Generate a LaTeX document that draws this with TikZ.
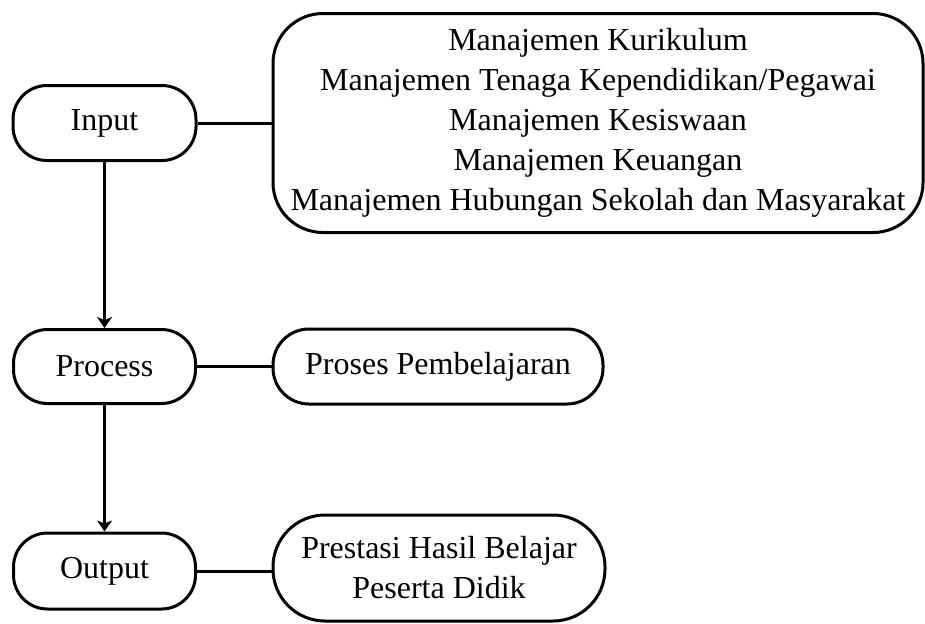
\documentclass[tikz,border=0pt]{standalone}
\usepackage{fontspec}
\setmainfont{Liberation Serif}
\usetikzlibrary{arrows.meta}
\begin{document}
\begin{tikzpicture}[x=0.5pt,y=-0.5pt,
  box/.style={draw, line width=1.5pt, rounded corners=#1, align=center, inner sep=0pt,
    font=\fontsize{16pt}{20pt}\selectfont},
  link/.style={line width=1.5pt},
  arr/.style={line width=1.5pt,-{Stealth[length=5.5pt,width=7.5pt,inset=1.5pt]}}]
\useasboundingbox (0,0) rectangle (925,623);
\node[box=17pt, minimum width=91.5pt, minimum height=37.5pt] (input) at (104.5,123) {Input};
\node[box=25pt, minimum width=325pt, minimum height=109.5pt] (big) at (598,123)
  {Manajemen Kurikulum\\Manajemen Tenaga Kependidikan/Pegawai\\Manajemen Kesiswaan\\Manajemen Keuangan\\Manajemen Hubungan Sekolah dan Masyarakat};
\node[box=17pt, minimum width=91pt, minimum height=37pt] (process) at (104.5,366.5) {Process};
\node[box=18pt, minimum width=165pt, minimum height=37.5pt] (proses) at (438,366.5) {Proses Pembelajaran};
\node[box=17pt, minimum width=91pt, minimum height=38pt] (output) at (104.5,571) {Output};
\node[box=26pt, minimum width=166pt, minimum height=53pt] (prestasi) at (439,568) {Prestasi Hasil Belajar\\Peserta Didik};
\draw[link] (input.east) -- (big.west);
\draw[arr] (input.south) -- (process.north);
\draw[arr] (process.south) -- (output.north);
\draw[link] (process.east) -- (proses.west);
\draw[link] (output.east) -- (output.east -| prestasi.west);
\end{tikzpicture}
\end{document}
